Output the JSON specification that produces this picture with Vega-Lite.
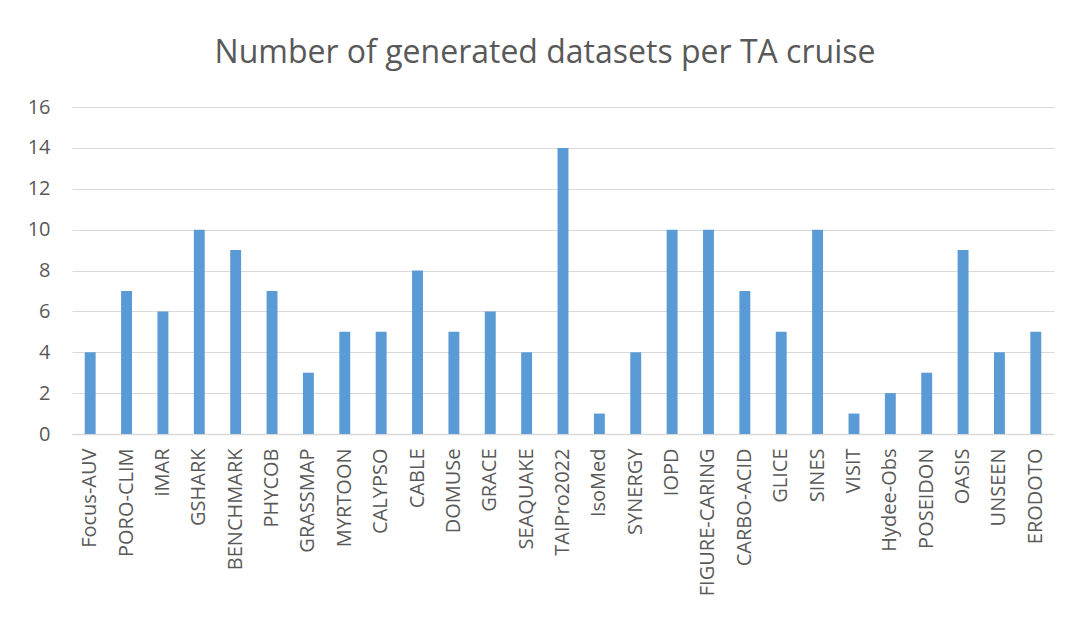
{
  "$schema": "https://vega.github.io/schema/vega-lite/v6.json",
  "autosize": "none",
  "padding": {"left": 72, "top": 107, "right": 19, "bottom": 187},
  "width": 982,
  "height": 327,
  "background": "white",
  "title": {
    "text": "Number of generated datasets per TA cruise",
    "font": "Open Sans",
    "fontSize": 32,
    "fontWeight": "normal",
    "color": "#595959",
    "anchor": "middle",
    "frame": "group",
    "dx": -18,
    "baseline": "alphabetic",
    "offset": 2
  },
  "data": {
    "values": [
      {"cruise": "Focus-AUV", "datasets": 4},
      {"cruise": "PORO-CLIM", "datasets": 7},
      {"cruise": "iMAR", "datasets": 6},
      {"cruise": "GSHARK", "datasets": 10},
      {"cruise": "BENCHMARK", "datasets": 9},
      {"cruise": "PHYCOB", "datasets": 7},
      {"cruise": "GRASSMAP", "datasets": 3},
      {"cruise": "MYRTOON", "datasets": 5},
      {"cruise": "CALYPSO", "datasets": 5},
      {"cruise": "CABLE", "datasets": 8},
      {"cruise": "DOMUSe", "datasets": 5},
      {"cruise": "GRACE", "datasets": 6},
      {"cruise": "SEAQUAKE", "datasets": 4},
      {"cruise": "TAIPro2022", "datasets": 14},
      {"cruise": "IsoMed", "datasets": 1},
      {"cruise": "SYNERGY", "datasets": 4},
      {"cruise": "IOPD", "datasets": 10},
      {"cruise": "FIGURE-CARING", "datasets": 10},
      {"cruise": "CARBO-ACID", "datasets": 7},
      {"cruise": "GLICE", "datasets": 5},
      {"cruise": "SINES", "datasets": 10},
      {"cruise": "VISIT", "datasets": 1},
      {"cruise": "Hydee-Obs", "datasets": 2},
      {"cruise": "POSEIDON", "datasets": 3},
      {"cruise": "OASIS", "datasets": 9},
      {"cruise": "UNSEEN", "datasets": 4},
      {"cruise": "ERODOTO", "datasets": 5}
    ]
  },
  "mark": {"type": "bar", "color": "#5B9BD5"},
  "encoding": {
    "x": {
      "field": "cruise",
      "type": "nominal",
      "sort": null,
      "scale": {"paddingInner": 0.7, "paddingOuter": 0.35},
      "axis": {
        "title": null,
        "labelAngle": -90,
        "labelFont": "Open Sans",
        "labelFontSize": 20,
        "labelColor": "#595959",
        "labelPadding": 14,
        "labelLimit": 300,
        "ticks": false,
        "domainColor": "#d9d9d9",
        "domainWidth": 1.5,
        "grid": false
      }
    },
    "y": {
      "field": "datasets",
      "type": "quantitative",
      "scale": {"domain": [0, 16]},
      "axis": {
        "title": null,
        "values": [0, 2, 4, 6, 8, 10, 12, 14, 16],
        "labelFont": "Open Sans",
        "labelFontSize": 20,
        "labelColor": "#595959",
        "labelPadding": 22,
        "ticks": false,
        "domain": false,
        "gridColor": "#d9d9d9",
        "gridWidth": 1
      }
    }
  },
  "config": {"view": {"stroke": null}}
}
